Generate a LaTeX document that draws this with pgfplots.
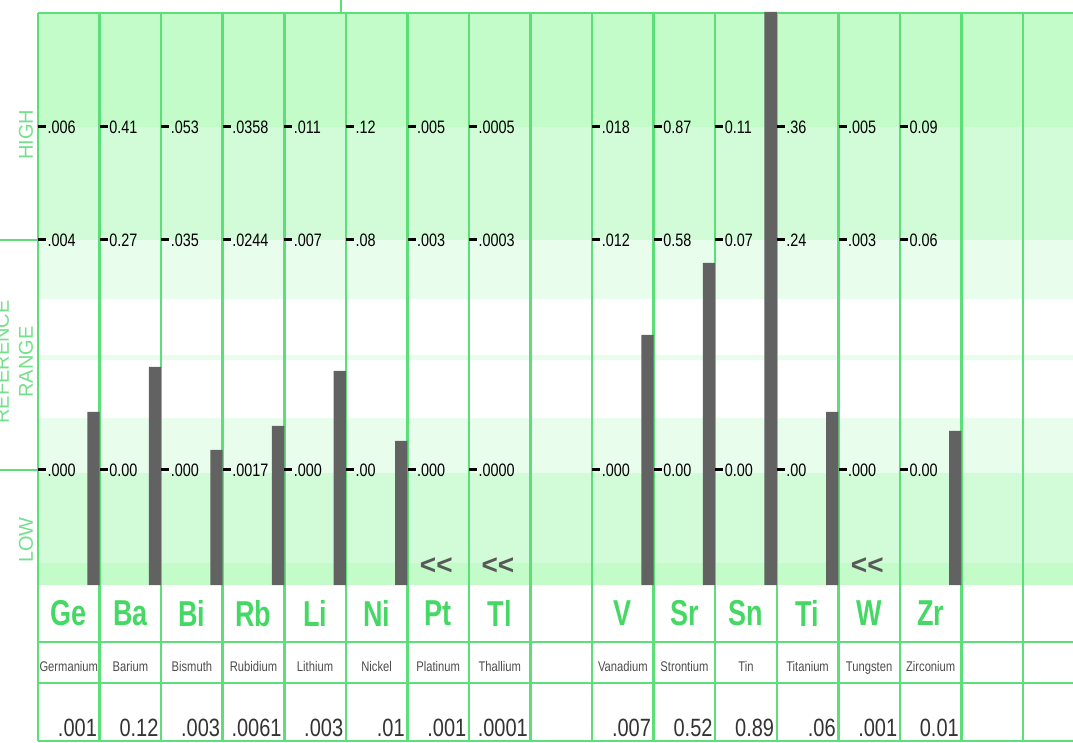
\documentclass[border=0pt]{standalone}
\usepackage{pgfplots}
\pgfplotsset{compat=1.18}
\usepackage{pgfplotstable}
\usepackage{fontspec}
\setmainfont{Liberation Sans}
\newfontfamily\narrow[FakeStretch=0.8]{Liberation Sans}
\newfontfamily\symfont[FakeStretch=0.75]{Liberation Sans}

\definecolor{gridg}{HTML}{5CDF78}
\definecolor{bandA}{HTML}{C3FCC9}
\definecolor{bandB}{HTML}{D1FCD7}
\definecolor{bandC}{HTML}{E8FDEC}
\definecolor{symg}{HTML}{45D865}
\definecolor{labg}{HTML}{74E08C}
\definecolor{bargray}{HTML}{626262}

% y is measured in pixels above the bar baseline, x in columns
\pgfplotstableread{
x  hi     mid    lo     name      sym res
0  .006   .004   .000   Germanium Ge  .001
1  0.41   0.27   0.00   Barium    Ba  0.12
2  .053   .035   .000   Bismuth   Bi  .003
3  .0358  .0244  .0017  Rubidium  Rb  .0061
4  .011   .007   .000   Lithium   Li  .003
5  .12    .08    .00    Nickel    Ni  .01
6  .005   .003   .000   Platinum  Pt  .001
7  .0005  .0003  .0000  Thallium  Tl  .0001
9  .018   .012   .000   Vanadium  V   .007
10 0.87   0.58   0.00   Strontium Sr  0.52
11 0.11   0.07   0.00   Tin       Sn  0.89
12 .36    .24    .00    Titanium  Ti  .06
13 .005   .003   .000   Tungsten  W   .001
14 0.09   0.06   0.00   Zirconium Zr  0.01
}\elements

\pgfplotstableread{
x  bar
0  173
1  218
2  135
3  159
4  214
5  144
9  250
10 322
11 573
12 173
14 154
}\bars

\pgfplotstableread{
x  y
6  19
7  19
13 19
}\lowmarks

\newcommand\tickdash{\rule[4.9bp]{8bp}{3bp}\hspace{1.5bp}}

\begin{document}
\begin{tikzpicture}
\begin{axis}[
    name=ax,
    width=1073bp, height=742bp,
    scale only axis,
    xmin=-0.6173, xmax=16.812,
    ymin=-157, ymax=585,
    axis line style={draw=none},
    xtick=\empty, ytick=\empty,
    clip=false,
    lbl/.style={only marks, mark=none, point meta=explicit symbolic,
        nodes near coords={#1}},
]
% background bands
\fill[bandA] (axis cs:0,458) rectangle (axis cs:16.812,572);
\fill[bandB] (axis cs:0,345) rectangle (axis cs:16.812,458);
\fill[bandC] (axis cs:0,286) rectangle (axis cs:16.812,345);
\fill[bandC] (axis cs:0,225) rectangle (axis cs:16.812,230);
\fill[bandC] (axis cs:0,112) rectangle (axis cs:16.812,167);
\fill[bandB] (axis cs:0,22) rectangle (axis cs:16.812,112);
\fill[bandA] (axis cs:0,0) rectangle (axis cs:16.812,22);

% grid
\pgfplotsinvokeforeach{0,...,16}{
  \draw[gridg, line width=2.5bp] (axis cs:#1,572) -- (axis cs:#1,-156);
}
\draw[gridg, line width=2.5bp] (axis cs:0,572) -- (axis cs:16.812,572);
\draw[gridg, line width=2.5bp] (axis cs:0,-57) -- (axis cs:16.812,-57);
\draw[gridg, line width=2.5bp] (axis cs:0,-98) -- (axis cs:16.812,-98);
\draw[gridg, line width=2.5bp] (axis cs:0,-156) -- (axis cs:16.812,-156);
\draw[gridg, line width=2.5bp] (axis cs:4.92,572) -- (axis cs:4.92,585);
\draw[gridg, line width=2.5bp] (axis cs:-0.6173,345) -- (axis cs:0,345);
\draw[gridg, line width=2.5bp] (axis cs:-0.6173,115) -- (axis cs:0,115);

% bars
\addplot[ybar, bar width=0.2, bar shift=0pt, fill=bargray, draw=none]
    table[x expr=\thisrow{x}+0.9, y=bar] {\bars};

% range labels
\pgfplotsset{every node near coord/.append style={inner sep=0pt}}
\addplot[lbl={\tickdash\pgfplotspointmeta},
    every node near coord/.append style={anchor=west, text=black,
        font=\narrow\fontsize{18bp}{18bp}\selectfont}]
    table[x=x, y expr=458, meta=hi] {\elements};
\addplot[lbl={\tickdash\pgfplotspointmeta},
    every node near coord/.append style={anchor=west, text=black,
        font=\narrow\fontsize{18bp}{18bp}\selectfont}]
    table[x=x, y expr=345, meta=mid] {\elements};
\addplot[lbl={\tickdash\pgfplotspointmeta},
    every node near coord/.append style={anchor=west, text=black,
        font=\narrow\fontsize{18bp}{18bp}\selectfont}]
    table[x=x, y expr=115, meta=lo] {\elements};

% below-range markers
\addplot[lbl={<{}<},
    every node near coord/.append style={anchor=center, text=black!65,
        font=\bfseries\fontsize{28bp}{28bp}\selectfont}]
    table[x expr=\thisrow{x}+0.47, y=y, meta=x] {\lowmarks};

% symbols, names, results
\addplot[lbl={\pgfplotspointmeta},
    every node near coord/.append style={anchor=center, text=symg,
        font=\symfont\bfseries\fontsize{36bp}{36bp}\selectfont}]
    table[x expr=\thisrow{x}+0.5, y expr=-28.5, meta=sym] {\elements};
\addplot[lbl={\pgfplotspointmeta},
    every node near coord/.append style={anchor=base, text=black!70,
        font=\narrow\fontsize{14bp}{14bp}\selectfont}]
    table[x expr=\thisrow{x}+0.5, y expr=-86.5, meta=name] {\elements};
\addplot[lbl={\pgfplotspointmeta},
    every node near coord/.append style={anchor=base east, text=black!80,
        font=\narrow\fontsize{25bp}{25bp}\selectfont}]
    table[x expr=\thisrow{x}+0.96, y expr=-151, meta=res] {\elements};

% side labels
\node[rotate=90, text=labg, font=\fontsize{20bp}{24bp}\selectfont]
    at (axis cs:-0.195,450) {HIGH};
\node[rotate=90, text=labg, align=center, font=\fontsize{20bp}{24bp}\selectfont]
    at (axis cs:-0.39,223) {REFERENCE\\RANGE};
\node[rotate=90, text=labg, font=\fontsize{20bp}{24bp}\selectfont]
    at (axis cs:-0.195,45) {LOW};
\end{axis}
\pgfresetboundingbox
\path[use as bounding box] (ax.south west) rectangle (ax.north east);
\end{tikzpicture}
\end{document}
